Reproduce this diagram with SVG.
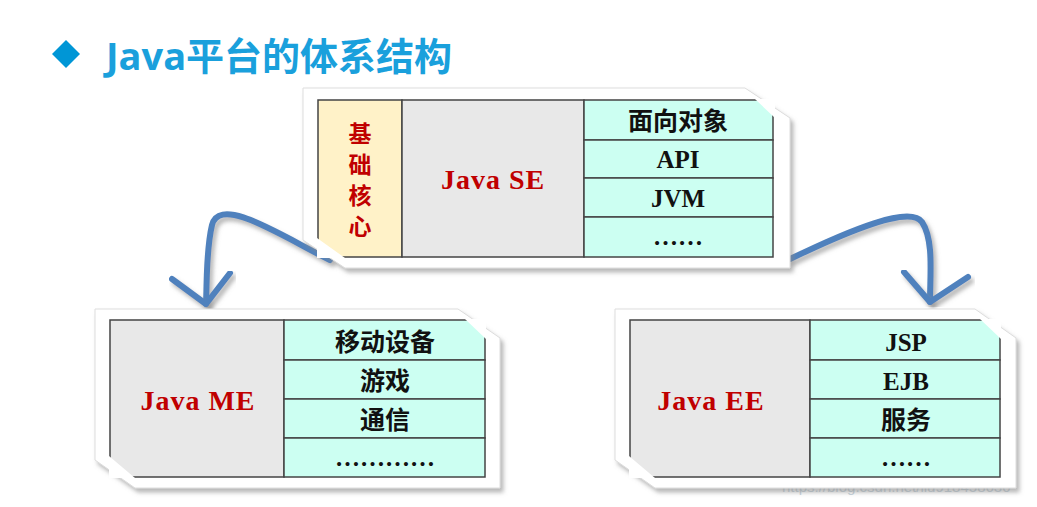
<svg xmlns="http://www.w3.org/2000/svg" width="1037" height="507" viewBox="0 0 1037 507">
<defs>
<filter id="sh" x="-5%" y="-5%" width="115%" height="120%"><feDropShadow dx="3" dy="4" stdDeviation="2" flood-color="#888" flood-opacity="0.6"/></filter>
</defs>
<style>
.frame{fill:#fff;stroke:#ddd;stroke-width:1;filter:url(#sh)}
.g{fill:#e8e8e8;stroke:#444;stroke-width:1.5}
.c{fill:#ccfff2;stroke:#444;stroke-width:1.5}
.y{fill:#fff2c8;stroke:#444;stroke-width:1.5}
.t{font-family:"Liberation Serif","Noto Sans CJK SC",serif;font-weight:bold;font-size:25px;fill:#111;text-anchor:middle}
.r{font-family:"Liberation Serif",serif;font-weight:bold;font-size:28px;fill:#c00000;text-anchor:middle;letter-spacing:1px}
.rc{font-family:"Noto Sans CJK SC",serif;font-weight:bold;font-size:23px;fill:#c00000;text-anchor:middle}
.arr{fill:none;stroke:#4f81bd;stroke-width:6;stroke-linecap:round;stroke-linejoin:round;filter:url(#sh)}
</style>
<rect width="1037" height="507" fill="#fff"/>
<text x="782" y="492" font-family="Liberation Sans,sans-serif" font-size="15" fill="#c8d4dc">https://blog.csdn.net/liu918458630</text>
<g id="title">
<polygon points="52,54 66,40 80,54 66,68" fill="#0096d6"/>
<text x="106" y="70" font-family="'Open Sans','Noto Sans CJK SC',sans-serif" font-weight="bold" font-size="38" fill="#1aa0dc">Java平台的体系结构</text>
</g>
<g id="connectors">
<path class="arr" d="M330,260 C280,235 220,195 212,225 C206,250 207,280 206,304"/>
<path class="arr" d="M172,279 L206,304 L230,273"/>
<path class="arr" d="M790,259 C850,230 910,205 922,222 C934,240 930,275 930,302"/>
<path class="arr" d="M904,272 L930,302 L968,277"/>
</g>
<g id="javase">
<polygon class="frame" points="303,88 745,88 790,118 790,268 345,268 303,240"/>
<rect class="y" x="318" y="100" width="84" height="157"/>
<rect class="g" x="402" y="100" width="182" height="157"/>
<rect class="c" x="584" y="100" width="189" height="40"/>
<rect class="c" x="584" y="140" width="189" height="38"/>
<rect class="c" x="584" y="178" width="189" height="39"/>
<rect class="c" x="584" y="217" width="189" height="40"/>
<polygon points="755,99 775,99 775,118" fill="#fff"/>
<polygon points="317,238 317,258 345,258" fill="#fff"/>
<text class="rc" x="360" y="142">基</text>
<text class="rc" x="360" y="173">础</text>
<text class="rc" x="360" y="204">核</text>
<text class="rc" x="360" y="235">心</text>
<text class="r" x="493" y="189">Java SE</text>
<text class="t" x="678" y="130">面向对象</text>
<text class="t" x="678" y="168">API</text>
<text class="t" x="678" y="207">JVM</text>
<text class="t" x="678" y="245">……</text>
</g>
<g id="javame">
<polygon class="frame" points="95,309 458,309 500,338 500,488 135,488 95,460"/>
<rect class="g" x="110" y="320" width="174" height="157"/>
<rect class="c" x="284" y="320" width="201" height="40"/>
<rect class="c" x="284" y="360" width="201" height="39"/>
<rect class="c" x="284" y="399" width="201" height="39"/>
<rect class="c" x="284" y="438" width="201" height="39"/>
<polygon points="465,319 486,319 486,339" fill="#fff"/>
<polygon points="109,456 109,478 135,478" fill="#fff"/>
<text class="r" x="198" y="410">Java ME</text>
<text class="t" x="385" y="351">移动设备</text>
<text class="t" x="385" y="390">游戏</text>
<text class="t" x="385" y="429">通信</text>
<text class="t" x="385" y="466">…………</text>
</g>
<g id="javaee">
<polygon class="frame" points="615,309 975,309 1016,338 1016,488 655,488 615,460"/>
<rect class="g" x="630" y="320" width="180" height="157"/>
<rect class="c" x="810" y="320" width="190" height="40"/>
<rect class="c" x="810" y="360" width="190" height="39"/>
<rect class="c" x="810" y="399" width="190" height="39"/>
<rect class="c" x="810" y="438" width="190" height="39"/>
<polygon points="980,319 1001,319 1001,339" fill="#fff"/>
<polygon points="629,456 629,478 655,478" fill="#fff"/>
<text class="r" x="711" y="410">Java EE</text>
<text class="t" x="906" y="351">JSP</text>
<text class="t" x="906" y="390">EJB</text>
<text class="t" x="906" y="429">服务</text>
<text class="t" x="906" y="466">……</text>
</g>
</svg>
